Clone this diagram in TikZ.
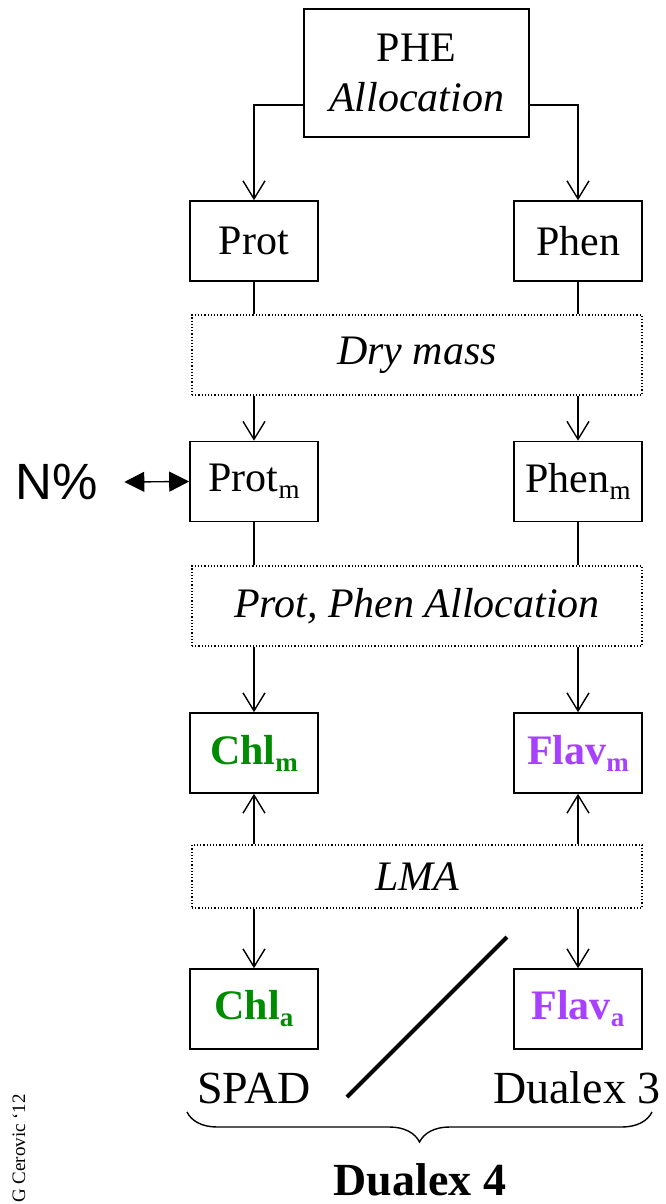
\documentclass[tikz,border=0pt]{standalone}
\usepackage{fontspec}
\setmainfont{Liberation Serif}
\newfontfamily\arialfont{Liberation Sans}
\usetikzlibrary{arrows.meta,decorations.pathreplacing}
\definecolor{ChlGreen}{RGB}{0,140,0}
\definecolor{FlavPurple}{RGB}{168,64,255}
\newcommand\lowidx[1]{\raisebox{-7pt}{\fontsize{27}{30}\selectfont #1}}
\tikzset{
  valbox/.style={draw,line width=1.6pt,minimum width=128pt,minimum height=80pt,inner sep=0pt,align=center,font=\fontsize{42}{50}\selectfont},
  dotbox/.style={draw,dotted,line width=1.2pt,minimum width=450pt,inner sep=0pt,font=\fontsize{42}{50}\selectfont\itshape},
  flow/.style={-{Straight Barb[length=18pt,width=22pt,line width=1.4pt]},line width=1.4pt},
  link/.style={line width=1.4pt},
  devlabel/.style={inner sep=0pt,font=\fontsize{46}{52}\selectfont}
}
\begin{document}
\begin{tikzpicture}[x=1pt,y=-1pt]
\useasboundingbox (0,0) rectangle (666,1204);
\node[valbox,minimum width=225pt,minimum height=128pt] (phe) at (416.5,73) {PHE\\\textit{Allocation}};
\node[valbox] (prot) at (254,241) {Prot};
\node[valbox] (phen) at (578,241) {Phen};
\node[dotbox,minimum height=80pt] (drymass) at (417,355) {Dry mass};
\node[valbox] (protm) at (254,481.5) {Prot\lowidx{m}};
\node[valbox] (phenm) at (578,481.5) {Phen\lowidx{m}};
\node[inner sep=0pt,font=\fontsize{51}{56}\selectfont\arialfont] (npct) at (57,482) {N\%};
\node[dotbox,minimum height=80pt] (alloc) at (417,606) {Prot, Phen Allocation};
\node[valbox,font=\fontsize{42}{50}\selectfont\bfseries,text=ChlGreen] (chlm) at (254,753) {Chl\lowidx{m}};
\node[valbox,font=\fontsize{42}{50}\selectfont\bfseries,text=FlavPurple] (flavm) at (578,753) {Flav\lowidx{m}};
\node[dotbox,minimum height=63pt] (lma) at (417,876.5) {LMA};
\node[valbox,font=\fontsize{42}{50}\selectfont\bfseries,text=ChlGreen] (chla) at (254,1009) {Chl\lowidx{a}};
\node[valbox,font=\fontsize{42}{50}\selectfont\bfseries,text=FlavPurple] (flava) at (578,1009) {Flav\lowidx{a}};
\node[devlabel,anchor=base] (spad) at (254,1103) {SPAD};
\node[devlabel,anchor=base] (dualexthree) at (577,1103) {Dualex 3};
\node[devlabel,anchor=base,font=\fontsize{46}{52}\selectfont\bfseries] (dualexfour) at (420,1195) {Dualex 4};
\node[inner sep=0pt,rotate=90,anchor=base west,font=\fontsize{19}{22}\selectfont] (credit) at (25,1203) {G Cerovic ‘12};
\coordinate (slashlow) at (347,1097);
\coordinate (slashhigh) at (507,937);
\coordinate (braceleft) at (187,1112);
\coordinate (braceright) at (652,1112);
% top split
\draw[flow] ([yshift=-32pt]phe.west) -| (prot);
\draw[flow] ([yshift=-32pt]phe.east) -| (phen);
% through dry mass
\draw[link] (prot) -- (prot |- drymass.north); \draw[link] (phen) -- (phen |- drymass.north);
\draw[flow] (drymass.south -| protm) -- (protm); \draw[flow] (drymass.south -| phenm) -- (phenm);
\draw[{Triangle[length=20pt,width=20pt]}-{Triangle[length=20pt,width=20pt]},line width=1.4pt] ([xshift=26pt]npct.east) -- (protm.west);
% through allocation
\draw[link] (protm) -- (protm |- alloc.north); \draw[link] (phenm) -- (phenm |- alloc.north);
\draw[flow] (alloc.south -| chlm) -- (chlm); \draw[flow] (alloc.south -| flavm) -- (flavm);
% LMA both ways
\draw[flow] (lma.north -| chlm) -- (chlm); \draw[flow] (lma.north -| flavm) -- (flavm);
\draw[flow] (lma.south -| chla) -- (chla); \draw[flow] (lma.south -| flava) -- (flava);
\draw[line width=4pt] (slashlow) -- (slashhigh);
\draw[line width=1.4pt,decorate,decoration={brace,amplitude=30pt}] (braceright) -- (braceleft);
\end{tikzpicture}
\end{document}
